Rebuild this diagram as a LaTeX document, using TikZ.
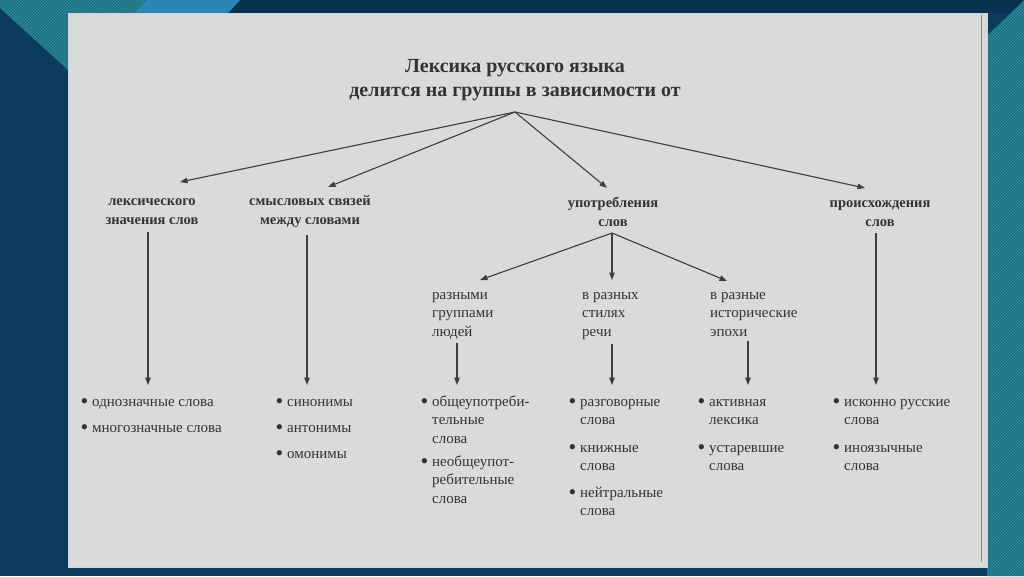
\documentclass[tikz,border=0pt]{standalone}
\usepackage{fontspec}
\setmainfont{Liberation Serif}
\usetikzlibrary{arrows.meta,patterns}
\definecolor{navy}{HTML}{0B3C5D}
\definecolor{navytop}{HTML}{08324F}
\definecolor{tealbase}{HTML}{1B6F80}
\definecolor{teallines}{HTML}{3493A2}
\definecolor{lightblue}{HTML}{2A86B4}
\definecolor{paper}{HTML}{DADADA}
\definecolor{paperedge}{HTML}{C9D6DE}
\definecolor{ink}{HTML}{333333}
\definecolor{lineink}{HTML}{3E3E3E}
\definecolor{rulegrey}{HTML}{8A8A8A}
\begin{document}
\begin{tikzpicture}[x=1pt,y=-1pt,
  titlestyle/.style={font=\bfseries\fontsize{20}{24}\selectfont, text=ink, align=center, inner sep=0, anchor=north},
  lbl/.style={font=\bfseries\fontsize{14.5}{19}\selectfont, text=ink, align=center, inner sep=0, anchor=north},
  sub/.style={font=\fontsize{15}{18.5}\selectfont, text=ink, align=left, inner sep=0, anchor=north west},
  item/.style={font=\fontsize{15}{18.5}\selectfont, text=ink, align=left, inner sep=0, anchor=north west},
  arr/.style={draw=lineink, line width=1.1pt, -{Triangle[length=7.5pt,width=5.5pt]}},
]
% background
\useasboundingbox (0,0) rectangle (1024,576);
\fill[navy] (0,0) rectangle (1024,576);
\fill[navytop] (150,0) rectangle (1024,13);
\fill[tealbase] (0,0) -- (150,0) -- (90,90) -- (0,8) -- cycle;
\fill[pattern=north east lines, pattern color=teallines] (0,0) -- (150,0) -- (90,90) -- (0,8) -- cycle;
\fill[lightblue] (147,0) -- (240,0) -- (228,13) -- (135,13) -- cycle;
\fill[tealbase] (987,36) -- (1024,0) -- (1024,576) -- (987,576) -- cycle;
\fill[pattern=north east lines, pattern color=teallines] (987,36) -- (1024,0) -- (1024,576) -- (987,576) -- cycle;
% page
\fill[paper, draw=paperedge, line width=0.8pt] (68,13) rectangle (987,567);
\draw[rulegrey, line width=0.9pt] (981,15) -- (981,562);

% title
\node[titlestyle] (title) at (515,55.5) {\strut Лексика русского языка\\делится на группы в зависимости от};
\coordinate (apex) at (515,112);

% first level
\node[lbl] (lex) at (152,191.5) {\strut лексического\\значения слов};
\node[lbl] (sm) at (310,191.5) {\strut смысловых связей\\между словами};
\node[lbl] (up) at (613,193.5) {\strut употребления\\слов};
\node[lbl] (pr) at (880,193.5) {\strut происхождения\\слов};

\coordinate (tlex) at (180,182);
\coordinate (tsm) at (328,187);
\coordinate (tup) at (607,188);
\coordinate (tpr) at (865,188);
\draw[arr] (apex) -- (tlex);
\draw[arr] (apex) -- (tsm);
\draw[arr] (apex) -- (tup);
\draw[arr] (apex) -- (tpr);

% second level under "употребления слов"
\node[sub] (grp) at (432,286) {\strut разными\\группами\\людей};
\node[sub] (stil) at (582,286) {\strut в разных\\стилях\\речи};
\node[sub] (epoh) at (710,286) {\strut в разные\\исторические\\эпохи};

\coordinate (usplit) at (612,233);
\coordinate (tgrp) at (480,280);
\coordinate (tstil) at (612,280);
\coordinate (tepoh) at (727,281);
\draw[arr] (usplit) -- (tgrp);
\draw[arr] (usplit) -- (tstil);
\draw[arr] (usplit) -- (tepoh);

% lists
\newcommand{\bul}{\llap{\raisebox{-2.2pt}{\fontsize{22}{0}\selectfont\textbullet}\hspace{4pt}}}
\node[item] (a1) at (92,393) {\strut\bul однозначные слова};
\node[item] (a2) at (92,419) {\strut\bul многозначные слова};

\node[item] (b1) at (287,393) {\strut\bul синонимы};
\node[item] (b2) at (287,419) {\strut\bul антонимы};
\node[item] (b3) at (287,445) {\strut\bul омонимы};

\node[item] (c1) at (432,393) {\strut\bul общеупотреби-\\тельные\\слова};
\node[item] (c2) at (432,453) {\strut\bul необщеупот-\\ребительные\\слова};

\node[item] (d1) at (580,393) {\strut\bul разговорные\\слова};
\node[item] (d2) at (580,439) {\strut\bul книжные\\слова};
\node[item] (d3) at (580,484) {\strut\bul нейтральные\\слова};

\node[item] (e1) at (709,393) {\strut\bul активная\\лексика};
\node[item] (e2) at (709,439) {\strut\bul устаревшие\\слова};

\node[item] (f1) at (844,393) {\strut\bul исконно русские\\слова};
\node[item] (f2) at (844,439) {\strut\bul иноязычные\\слова};

% vertical connectors
\coordinate (ta) at (148,385);
\coordinate (tb) at (307,385);
\coordinate (tc) at (457,385);
\coordinate (td) at (612,385);
\coordinate (te) at (748,385);
\coordinate (tf) at (876,385);
\draw[arr] (lex.south -| ta) ++(0,8) -- (ta);
\draw[arr] (sm.south -| tb) ++(0,8) -- (tb);
\draw[arr] (grp.south -| tc) ++(0,4) -- (tc);
\draw[arr] (stil.south -| td) ++(0,4) -- (td);
\draw[arr] (epoh.south -| te) ++(0,4) -- (te);
\draw[arr] (pr.south -| tf) ++(0,7) -- (tf);
\end{tikzpicture}
\end{document}
